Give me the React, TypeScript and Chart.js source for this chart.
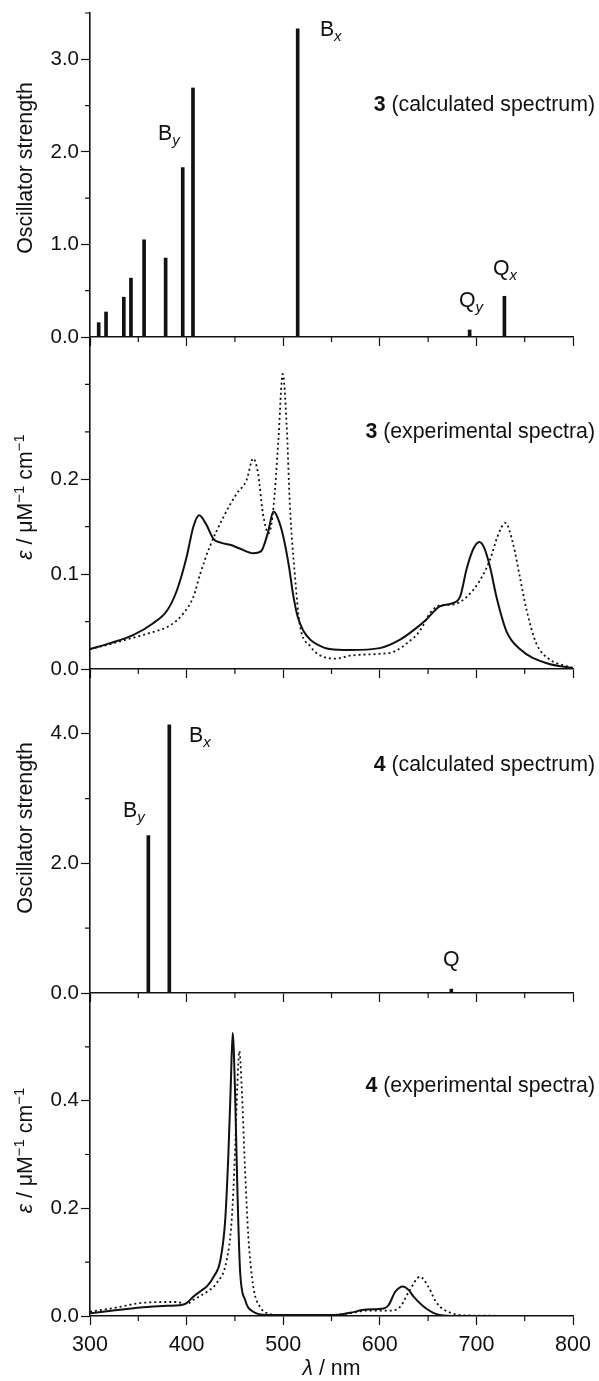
import React, { useEffect, useRef } from "react";
import { Chart, registerables } from "chart.js";

Chart.register(...registerables);

const FONT = '"Liberation Sans", Arial, Helvetica, sans-serif';
const PAGE_W = 599;
const PAGE_H = 1381;

// ---- shared wavelength axis ----
const xMin = 300;
const xMax = 800;
const xMajorTicks = [300, 400, 500, 600, 700, 800];
const xMinorTicks = [350, 450, 550, 650, 750];

// ---- panel 1: 3 (calculated spectrum) ----
const calc3Nm = [309, 316.6, 335, 342.4, 356, 378.3, 396, 406.6, 515, 693, 729];
const calc3Strength = [0.155, 0.27, 0.43, 0.636, 1.05, 0.853, 1.83, 2.69, 3.33, 0.076, 0.44];
const calc3YMajor = [0, 1, 2, 3];
const calc3YMinor = [0.5, 1.5, 2.5, 3.5];

// ---- panel 2: 3 (experimental spectra) ----
const exp3SolidNm = [300, 320, 345, 365, 380, 390, 400, 407, 413, 420, 428, 436, 445, 455, 469, 477, 484, 490, 494, 500, 506, 510, 515, 521, 528, 535, 548, 569, 600, 621, 635, 648, 662, 674, 683, 690, 697, 703, 708, 714, 721, 731, 745, 773, 800];
const exp3SolidEps = [0.021, 0.027, 0.036, 0.048, 0.062, 0.083, 0.118, 0.15, 0.162, 0.153, 0.137, 0.133, 0.131, 0.127, 0.122, 0.124, 0.143, 0.166, 0.16, 0.14, 0.108, 0.08, 0.055, 0.04, 0.031, 0.026, 0.021, 0.02, 0.022, 0.031, 0.041, 0.052, 0.066, 0.069, 0.076, 0.106, 0.127, 0.134, 0.128, 0.108, 0.075, 0.04, 0.021, 0.006, 0.001];
const exp3DotNm = [300, 320, 341, 362, 383, 397, 407, 414, 424, 438, 452, 462, 469, 474, 479, 485, 490, 495, 499.5, 503.5, 507, 512, 517, 528, 541, 555, 569, 580, 600, 614, 628, 642, 652, 662, 676, 690, 704, 714, 722, 730, 738, 745, 752, 762, 776, 793, 800];
const exp3DotEps = [0.021, 0.026, 0.032, 0.038, 0.046, 0.059, 0.076, 0.1, 0.129, 0.16, 0.185, 0.199, 0.222, 0.206, 0.164, 0.143, 0.171, 0.241, 0.311, 0.259, 0.171, 0.1, 0.048, 0.024, 0.013, 0.011, 0.014, 0.015, 0.016, 0.018, 0.027, 0.041, 0.059, 0.067, 0.068, 0.076, 0.094, 0.115, 0.14, 0.154, 0.132, 0.097, 0.062, 0.027, 0.01, 0.003, 0.001];
const exp3YMajor = [0, 0.1, 0.2];
const exp3YMinor = [0.05, 0.15, 0.25, 0.3];

// ---- panel 3: 4 (calculated spectrum) ----
const calc4Nm = [360.4, 382.1, 674];
const calc4Strength = [2.43, 4.14, 0.06];
const calc4YMajor = [0, 2, 4];
const calc4YMinor = [1, 3];

// ---- panel 4: 4 (experimental spectra) ----
const exp4SolidNm = [300, 328, 352, 380, 393, 400, 407, 415, 421, 428, 435, 440, 443.3, 445.7, 447.7, 450, 452.5, 455.3, 460.5, 469, 483, 517, 552, 569, 586, 604, 609, 616, 624, 630, 635, 648, 662, 680, 800];
const exp4SolidEps = [0.005, 0.011, 0.016, 0.019, 0.02, 0.024, 0.036, 0.047, 0.055, 0.073, 0.104, 0.179, 0.303, 0.427, 0.526, 0.427, 0.24, 0.086, 0.03, 0.008, 0.002, 0.002, 0.002, 0.006, 0.012, 0.014, 0.02, 0.045, 0.055, 0.048, 0.036, 0.014, 0.002, 0, 0];
const exp4DotNm = [300, 328, 352, 380, 390, 400, 407, 421, 431, 441.5, 446.7, 450.1, 452.5, 454.6, 457, 460.5, 463.9, 469, 476, 486, 500, 552, 569, 586, 611, 621, 631, 641.6, 650, 659, 673, 690, 800];
const exp4DotEps = [0.008, 0.016, 0.024, 0.026, 0.026, 0.022, 0.03, 0.045, 0.061, 0.104, 0.179, 0.303, 0.427, 0.492, 0.427, 0.272, 0.148, 0.055, 0.017, 0.004, 0.001, 0.002, 0.005, 0.01, 0.01, 0.017, 0.048, 0.073, 0.055, 0.024, 0.006, 0.001, 0];
const exp4YMajor = [0, 0.2, 0.4];
const exp4YMinor = [0.1, 0.3, 0.5];

type Run = { t: string; italic?: boolean; bold?: boolean; sub?: boolean; sup?: boolean };
type Note = { runs: Run[]; x: number; y: number; align: "left" | "right" | "center" };

const FS = 21.3;
const INK = "#111";

function runFont(r: Run) {
  const size = r.sub || r.sup ? Math.round(FS * 0.72) : FS;
  return `${r.italic ? "italic " : ""}${r.bold ? "bold " : ""}${size}px ${FONT}`;
}

function drawRuns(ctx: CanvasRenderingContext2D, runs: Run[], x: number, y: number, align: string) {
  let total = 0;
  for (const r of runs) {
    ctx.font = runFont(r);
    total += ctx.measureText(r.t).width;
  }
  let cx = align === "left" ? x : align === "right" ? x - total : x - total / 2;
  ctx.textAlign = "left";
  ctx.textBaseline = "alphabetic";
  for (const r of runs) {
    ctx.font = runFont(r);
    const dy = r.sub ? 5 : r.sup ? -8 : 0;
    ctx.fillText(r.t, cx, y + dy);
    cx += ctx.measureText(r.t).width;
  }
}

const decorPlugin = {
  id: "decor",
  afterDraw(chart: any, _args: any, opts: any) {
    const { ctx, chartArea } = chart;
    const xs = chart.scales.x;
    const ys = chart.scales.y;
    ctx.save();
    ctx.strokeStyle = INK;
    ctx.fillStyle = INK;
    ctx.lineWidth = 1.2;
    ctx.beginPath();
    for (const v of opts.xMinor || []) {
      const px = xs.getPixelForValue(v);
      ctx.moveTo(px, chartArea.bottom);
      ctx.lineTo(px, chartArea.bottom + 5);
    }
    for (const v of opts.yMinor || []) {
      const py = ys.getPixelForValue(v);
      ctx.moveTo(chartArea.left - 5, py);
      ctx.lineTo(chartArea.left, py);
    }
    ctx.stroke();

    if (opts.yTitle) {
      ctx.save();
      const cy = (chartArea.top + chartArea.bottom) / 2 + (opts.yTitleShift || 0);
      ctx.translate(32, cy);
      ctx.rotate(-Math.PI / 2);
      drawRuns(ctx, opts.yTitle, 0, 0, "center");
      ctx.restore();
    }
    if (opts.xTitle) {
      drawRuns(ctx, opts.xTitle, (chartArea.left + chartArea.right) / 2, opts.xTitleY, "center");
    }
    for (const n of (opts.notes || []) as Note[]) {
      drawRuns(ctx, n.runs, xs.getPixelForValue(n.x), ys.getPixelForValue(n.y), n.align);
    }
    ctx.restore();
  },
};

type PanelSpec = {
  kind: "bar" | "line";
  top: number;
  bottom: number;
  yMax: number;
  yMajor: number[];
  yMinor: number[];
  series: { x: number[]; y: number[]; dashed?: boolean }[];
  xLabels: boolean;
  yTitle: Run[];
  yTitleShift: number;
  notes: Note[];
  xTitle?: Run[];
};

const oscTitle: Run[] = [{ t: "Oscillator strength" }];
const epsTitle: Run[] = [
  { t: "ε", italic: true },
  { t: " / μM" },
  { t: "−1", sup: true },
  { t: " cm" },
  { t: "−1", sup: true },
];

const panels: PanelSpec[] = [
  {
    kind: "bar",
    top: 13,
    bottom: 337,
    yMax: 3.5,
    yMajor: calc3YMajor,
    yMinor: calc3YMinor,
    series: [{ x: calc3Nm, y: calc3Strength }],
    xLabels: false,
    yTitle: oscTitle,
    yTitleShift: -7,
    notes: [
      { runs: [{ t: "B" }, { t: "y", italic: true, sub: true }], x: 370.4, y: 2.13, align: "left" },
      { runs: [{ t: "B" }, { t: "x", italic: true, sub: true }], x: 538, y: 3.25, align: "left" },
      { runs: [{ t: "3", bold: true }, { t: " (calculated spectrum)" }], x: 822.8, y: 2.44, align: "right" },
      { runs: [{ t: "Q" }, { t: "x", italic: true, sub: true }], x: 717.2, y: 0.67, align: "left" },
      { runs: [{ t: "Q" }, { t: "y", italic: true, sub: true }], x: 682, y: 0.325, align: "left" },
    ],
  },
  {
    kind: "line",
    top: 337,
    bottom: 669,
    yMax: 0.35,
    yMajor: exp3YMajor,
    yMinor: exp3YMinor,
    series: [
      { x: exp3SolidNm, y: exp3SolidEps },
      { x: exp3DotNm, y: exp3DotEps, dashed: true },
    ],
    xLabels: false,
    yTitle: epsTitle,
    yTitleShift: -6,
    notes: [
      { runs: [{ t: "3", bold: true }, { t: " (experimental spectra)" }], x: 822.8, y: 0.243, align: "right" },
    ],
  },
  {
    kind: "bar",
    top: 669,
    bottom: 993,
    yMax: 5,
    yMajor: calc4YMajor,
    yMinor: calc4YMinor,
    series: [{ x: calc4Nm, y: calc4Strength }],
    xLabels: false,
    yTitle: oscTitle,
    yTitleShift: -3,
    notes: [
      { runs: [{ t: "B" }, { t: "y", italic: true, sub: true }], x: 334.2, y: 2.72, align: "left" },
      { runs: [{ t: "B" }, { t: "x", italic: true, sub: true }], x: 402.5, y: 3.88, align: "left" },
      { runs: [{ t: "4", bold: true }, { t: " (calculated spectrum)" }], x: 822.8, y: 3.43, align: "right" },
      { runs: [{ t: "Q" }], x: 674, y: 0.415, align: "center" },
    ],
  },
  {
    kind: "line",
    top: 993,
    bottom: 1316,
    yMax: 0.6,
    yMajor: exp4YMajor,
    yMinor: exp4YMinor,
    series: [
      { x: exp4SolidNm, y: exp4SolidEps },
      { x: exp4DotNm, y: exp4DotEps, dashed: true },
    ],
    xLabels: true,
    yTitle: epsTitle,
    yTitleShift: -4,
    notes: [
      { runs: [{ t: "4", bold: true }, { t: " (experimental spectra)" }], x: 822.8, y: 0.417, align: "right" },
    ],
    xTitle: [{ t: "λ", italic: true }, { t: " / nm" }],
  },
];

const X_AXIS_H_PLAIN = 10;
const X_AXIS_H_LABELS = 40;
const PLOT_LEFT = 90;
const PLOT_RIGHT = 573;

function Panel({ spec }: { spec: PanelSpec }) {
  const ref = useRef<HTMLCanvasElement | null>(null);
  useEffect(() => {
    if (!ref.current) return;
    const xAxisH = spec.xLabels ? X_AXIS_H_LABELS : X_AXIS_H_PLAIN;
    const datasets = spec.series.map((s) => {
      const data = s.x.map((xv, i) => ({ x: xv, y: s.y[i] }));
      if (spec.kind === "bar") {
        return {
          type: "bar" as const,
          data,
          backgroundColor: INK,
          borderWidth: 0,
          barThickness: 3,
          grouped: false,
        };
      }
      return {
        type: "line" as const,
        data,
        borderColor: INK,
        borderWidth: s.dashed ? 1.8 : 2,
        borderDash: s.dashed ? [2, 3] : [],
        pointRadius: 0,
        cubicInterpolationMode: "monotone" as const,
        fill: false,
      };
    });
    const chart = new Chart(ref.current, {
      type: spec.kind,
      data: { datasets: datasets as any },
      plugins: [decorPlugin],
      options: {
        animation: false,
        responsive: false,
        events: [],
        layout: {
          padding: {
            left: 0,
            right: PAGE_W - PLOT_RIGHT,
            top: spec.top,
            bottom: PAGE_H - spec.bottom - xAxisH,
          },
        },
        plugins: {
          legend: { display: false },
          tooltip: { enabled: false },
          decor: {
            xMinor: xMinorTicks,
            yMinor: spec.yMinor,
            yTitle: spec.yTitle,
            yTitleShift: spec.yTitleShift,
            notes: spec.notes,
            xTitle: spec.xTitle,
            xTitleY: 1375,
          },
        } as any,
        scales: {
          x: {
            type: "linear",
            min: xMin,
            max: xMax,
            offset: false,
            afterBuildTicks: (s: any) => {
              s.ticks = xMajorTicks.map((v) => ({ value: v }));
            },
            afterFit: (s: any) => {
              s.height = xAxisH;
              s.paddingLeft = 0;
              s.paddingRight = 0;
            },
            grid: {
              offset: false,
              drawOnChartArea: false,
              drawTicks: true,
              tickLength: 9,
              tickColor: INK,
              tickWidth: 1.2,
            },
            border: { display: true, color: INK, width: 1.6 },
            ticks: {
              display: spec.xLabels,
              color: INK,
              padding: 7,
              maxRotation: 0,
              autoSkip: false,
              font: { family: FONT, size: 21.5 },
              callback: (v: any) => String(v),
            },
          },
          y: {
            type: "linear",
            min: 0,
            max: spec.yMax,
            afterBuildTicks: (s: any) => {
              s.ticks = spec.yMajor.map((v) => ({ value: v }));
            },
            afterFit: (s: any) => {
              s.width = PLOT_LEFT;
              s.paddingTop = 0;
              s.paddingBottom = 0;
            },
            grid: {
              drawOnChartArea: false,
              drawTicks: true,
              tickLength: 9,
              tickColor: INK,
              tickWidth: 1.2,
            },
            border: { display: true, color: INK, width: 1.6 },
            ticks: {
              color: INK,
              padding: 2,
              autoSkip: false,
              font: { family: FONT, size: 20.5 },
              callback: (v: any) => Number(v).toFixed(1),
            },
          },
        },
      } as any,
    });
    return () => chart.destroy();
  }, [spec]);
  return (
    <canvas
      ref={ref}
      width={PAGE_W}
      height={PAGE_H}
      style={{ position: "absolute", left: 0, top: 0, width: PAGE_W, height: PAGE_H }}
    />
  );
}

export default function App() {
  return (
    <div
      style={{
        position: "absolute",
        left: 0,
        top: 0,
        width: PAGE_W,
        height: PAGE_H,
        background: "#fff",
        overflow: "hidden",
      }}
    >
      {panels.map((p, i) => (
        <Panel key={i} spec={p} />
      ))}
    </div>
  );
}
